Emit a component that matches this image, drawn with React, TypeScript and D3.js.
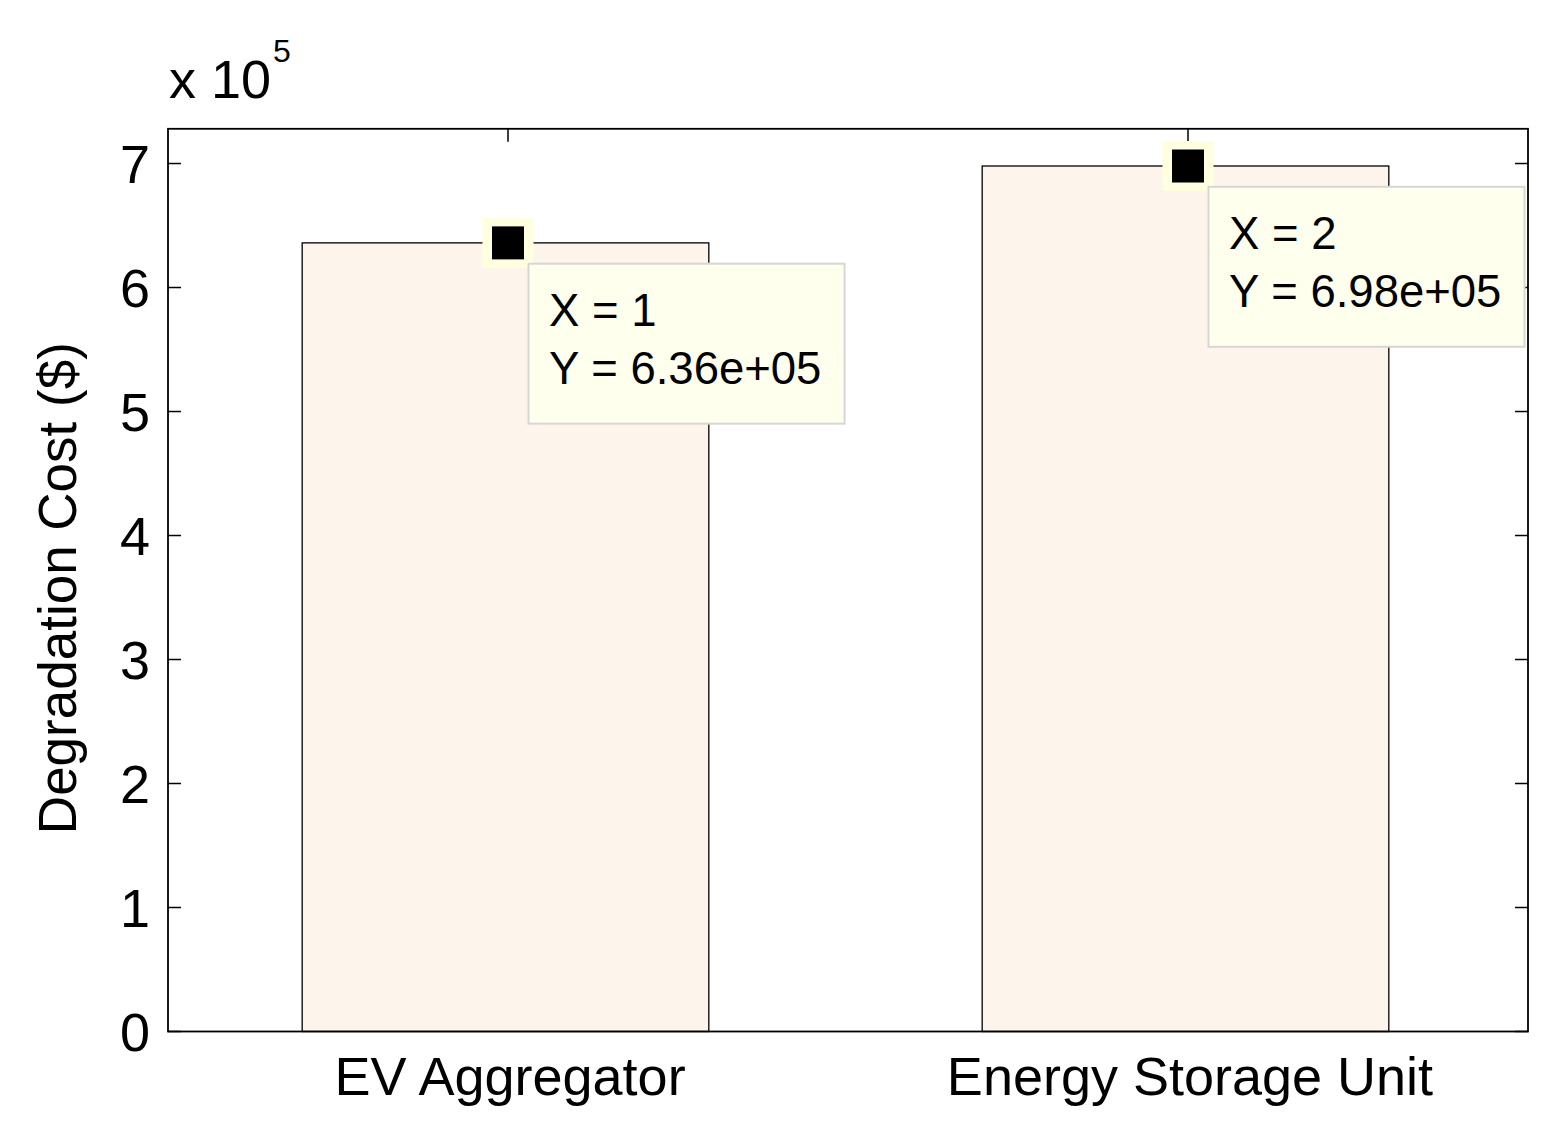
import React from "react";
import * as d3 from "d3";

const categories = ["EV Aggregator", "Energy Storage Unit"];
const categoryX = [1, 2];
const costs = [636000, 698000];
const yTicks = [0, 1, 2, 3, 4, 5, 6, 7];
const yExponent = 5;
const yLabel = "Degradation Cost ($)";

const W = 1556;
const H = 1127;
const M = { left: 168, right: 1528, top: 128.8, bottom: 1031.5 };
const FONT = "'Liberation Sans', Arial, Helvetica, sans-serif";

function fmtExp(v: number): string {
  const s = v.toExponential(2);
  const [m, e] = s.split("e");
  const sign = e[0] === "-" ? "-" : "+";
  const digits = e.replace(/[+-]/, "").padStart(2, "0");
  return `${m}e${sign}${digits}`;
}

export default function App() {
  const scale = Math.pow(10, yExponent);
  const x = d3.scaleLinear().domain([0.5, 2.5]).range([M.left, M.right]);
  const y = d3.scaleLinear().domain([0, 7.28]).range([M.bottom, M.top]);
  const barW = x(0.598) - x(0);
  const tick = 13;

  return (
    <svg
      width={W}
      height={H}
      style={{ position: "absolute", left: 0, top: 0, background: "#fff" }}
      fontFamily={FONT}
    >
      <rect x={0} y={0} width={W} height={H} fill="#fff" />
      <g stroke="#000" strokeWidth={1.5}>
        {yTicks.map((t) => (
          <g key={t}>
            <line x1={M.left} x2={M.left + tick} y1={y(t)} y2={y(t)} />
            <line x1={M.right} x2={M.right - tick} y1={y(t)} y2={y(t)} />
          </g>
        ))}
        {categoryX.map((c) => (
          <g key={c}>
            <line x1={x(c)} x2={x(c)} y1={M.top} y2={M.top + tick} />
            <line x1={x(c)} x2={x(c)} y1={M.bottom} y2={M.bottom - tick} />
          </g>
        ))}
      </g>
      {costs.map((v, i) => (
        <rect
          key={i}
          x={x(categoryX[i]) - 2.5 - barW / 2}
          y={y(v / scale)}
          width={barW}
          height={y(0) - y(v / scale)}
          fill="#fdf5eb"
          stroke="#000"
          strokeWidth={1.3}
        />
      ))}
      <rect
        x={M.left}
        y={M.top}
        width={M.right - M.left}
        height={M.bottom - M.top}
        fill="none"
        stroke="#000"
        strokeWidth={1.8}
      />
      {yTicks.map((t) => (
        <text
          key={t}
          x={150}
          y={y(t)}
          dy="0.36em"
          textAnchor="end"
          fontSize={54}
          fill="#000"
        >
          {t}
        </text>
      ))}
      <text x={169} y={98} fontSize={54} fill="#000">
        x 10
      </text>
      <text x={273} y={62} fontSize={32} fill="#000">
        {yExponent}
      </text>
      {categories.map((c, i) => (
        <text
          key={c}
          x={x(categoryX[i]) + 2}
          y={1095}
          textAnchor="middle"
          fontSize={54}
          fill="#000"
        >
          {c}
        </text>
      ))}
      <text
        transform={`translate(76,${(M.top + M.bottom) / 2 + 8}) rotate(-90)`}
        textAnchor="middle"
        fontSize={53}
        fill="#000"
      >
        {yLabel}
      </text>
      {costs.map((v, i) => {
        const cx = x(categoryX[i]);
        const cy = y(v / scale);
        const bx = cx + 20.5;
        const by = cy + 20.8;
        return (
          <g key={i}>
            <rect x={cx - 25.5} y={cy - 25} width={51} height={50} fill="#ffffe0" />
            <rect x={cx - 16} y={cy - 16.5} width={32} height={33} fill="#000" />
            <rect
              x={bx}
              y={by}
              width={316}
              height={160}
              fill="#ffffee"
              stroke="#d6d6d6"
              strokeWidth={2}
            />
            <text x={bx + 20.5} y={by + 62.7} fontSize={45.5} fill="#000">
              {`X = ${categoryX[i]}`}
            </text>
            <text x={bx + 20.5} y={by + 120} fontSize={45.5} fill="#000">
              {`Y = ${fmtExp(v)}`}
            </text>
          </g>
        );
      })}
    </svg>
  );
}
